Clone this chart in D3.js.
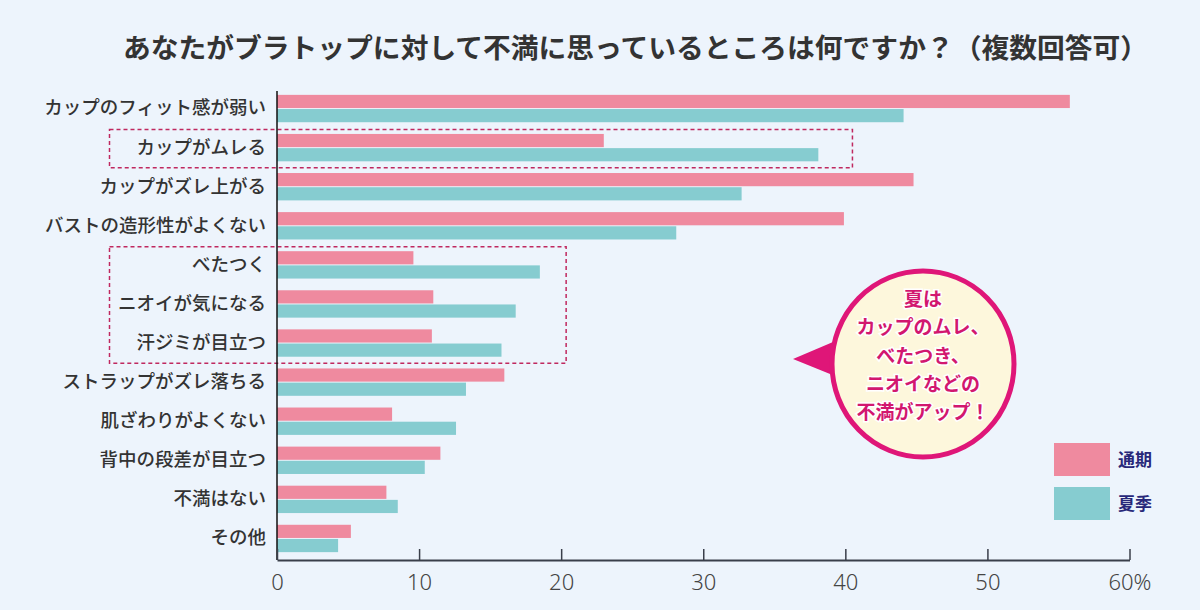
<!DOCTYPE html>
<html>
<head>
<meta charset="utf-8">
<script src="https://cdn.jsdelivr.net/npm/d3@7"></script>
<style>
  html, body { margin: 0; padding: 0; background: #edf4fc; }
  svg { display: block; font-family: "Noto Sans CJK JP", "Noto Sans", sans-serif; }
</style>
</head>
<body>
<div id="container"></div>
<script>
// Data (%)
const categories = [
  'カップのフィット感が弱い', 'カップがムレる', 'カップがズレ上がる', 'バストの造形性がよくない',
  'べたつく', 'ニオイが気になる', '汗ジミが目立つ', 'ストラップがズレ落ちる',
  '肌ざわりがよくない', '背中の段差が目立つ', '不満はない', 'その他'
];
const seriesNames = [ '通期', '夏季' ];
const allYear = [ 55.8, 23.0, 44.8, 39.9, 9.6, 11.0, 10.9, 16.0, 8.1, 11.5, 7.7, 5.2 ];
const summer  = [ 44.1, 38.1, 32.7, 28.1, 18.5, 16.8, 15.8, 13.3, 12.6, 10.4, 8.5, 4.3 ];
const xTicks = [ 0, 10, 20, 30, 40, 50, 60 ];
const title = 'あなたがブラトップに対して不満に思っているところは何ですか？（複数回答可）';
const calloutLines = [ '夏は', 'カップのムレ、', 'べたつき、', 'ニオイなどの', '不満がアップ！' ];
// highlighted row groups (first, last, right edge in %)
const highlights = [
  { from: 'カップがムレる', to: 'カップがムレる', xMax: 40.5 },
  { from: 'べたつく', to: '汗ジミが目立つ', xMax: 20.35 }
];

//_____ LAYOUT _____
const W = 1200, H = 610;
const colors = { '通期': '#ef8a9f', '夏季': '#86ccd0' };
const textDark = '#333';

const svg = d3.select( '#container' ).append( 'svg' )
  .attr( 'width', W ).attr( 'height', H );

svg.append( 'rect' ).attr( 'width', W ).attr( 'height', H ).attr( 'fill', '#edf4fc' );

//_____ SCALES _____
const xScale = d3.scaleLinear().domain( [ 0, 60 ] ).range( [ 277, 1129.5 ] );
const yScale = d3.scaleBand().domain( categories ).range( [ 89, 558 ] )
  .paddingInner( 0.3 ).paddingOuter( 0.15 );
const ySub = d3.scaleBand().domain( seriesNames ).range( [ 0, yScale.bandwidth() ] )
  .paddingInner( 0.07 );

const rows = categories.map( ( c, i ) => ( { cat: c, '通期': allYear[ i ], '夏季': summer[ i ] } ) );

//_____ HIGHLIGHT BOXES _____
svg.append( 'g' ).selectAll( 'rect' )
  .data( highlights )
  .enter().append( 'rect' )
  .attr( 'x', 109.5 )
  .attr( 'y', d => yScale( d.from ) - 4.5 )
  .attr( 'width', d => xScale( d.xMax ) - 109.5 )
  .attr( 'height', d => yScale( d.to ) + yScale.bandwidth() + 6.5 - ( yScale( d.from ) - 4.5 ) )
  .attr( 'fill', 'none' )
  .attr( 'stroke', '#c0285f' )
  .attr( 'stroke-width', 1.5 )
  .attr( 'stroke-dasharray', '4 3' );

//_____ BARS _____
const groups = svg.append( 'g' ).selectAll( 'g' )
  .data( rows )
  .enter().append( 'g' )
  .attr( 'transform', d => `translate(0, ${yScale( d.cat )})` );

groups.selectAll( 'rect' )
  .data( d => seriesNames.map( s => ( { s, v: d[ s ] } ) ) )
  .enter().append( 'rect' )
  .attr( 'x', xScale( 0 ) )
  .attr( 'y', d => ySub( d.s ) )
  .attr( 'width', d => xScale( d.v ) - xScale( 0 ) )
  .attr( 'height', ySub.bandwidth() )
  .attr( 'fill', d => colors[ d.s ] );

//_____ AXES _____
const yAxis = svg.append( 'g' )
  .attr( 'transform', `translate(${xScale( 0 )}, 0)` )
  .call( d3.axisLeft( yScale ).tickSize( 0 ).tickPadding( 11 ) );
yAxis.select( '.domain' ).attr( 'stroke', '#111' ).attr( 'stroke-width', 1.5 )
  .attr( 'd', `M0,91V560` );
yAxis.selectAll( 'text' )
  .attr( 'fill', textDark )
  .style( 'font-size', '18.5px' )
  .style( 'font-weight', 500 )
  .style( 'font-family', '"Noto Sans CJK JP", sans-serif' );

const xAxis = svg.append( 'g' )
  .attr( 'transform', 'translate(0, 560)' )
  .call( d3.axisBottom( xScale ).tickValues( xTicks ).tickSizeInner( -11 ).tickSizeOuter( 0 )
    .tickPadding( 14 ).tickFormat( d => d === 60 ? '60%' : d ) );
xAxis.select( '.domain' ).attr( 'stroke', '#3a3f4a' ).attr( 'stroke-width', 2 );
xAxis.selectAll( '.tick line' ).attr( 'stroke', '#3a3f4a' ).attr( 'stroke-width', 1.5 );
xAxis.selectAll( 'text' )
  .attr( 'fill', '#444' )
  .style( 'font-size', '22px' )
  .style( 'font-weight', 300 )
  .style( 'font-family', '"Noto Sans", sans-serif' );

//_____ TITLE _____
svg.append( 'text' )
  .attr( 'x', 123 ).attr( 'y', 58 )
  .attr( 'textLength', 1025 )
  .attr( 'lengthAdjust', 'spacingAndGlyphs' )
  .attr( 'fill', textDark )
  .style( 'font-size', '27px' )
  .style( 'font-weight', 700 )
  .text( title );

//_____ CALLOUT _____
const callout = svg.append( 'g' ).attr( 'transform', 'translate(923, 364)' );
callout.append( 'path' )
  .attr( 'd', 'M-130,-5 L-90,-22 L-88,12 Z' )
  .attr( 'fill', '#df1678' );
callout.append( 'ellipse' )
  .attr( 'rx', 91 ).attr( 'ry', 93 )
  .attr( 'fill', '#fdf7dc' )
  .attr( 'stroke', '#df1678' )
  .attr( 'stroke-width', 5 );
callout.selectAll( 'text' )
  .data( calloutLines )
  .enter().append( 'text' )
  .attr( 'x', 0 )
  .attr( 'y', ( d, i ) => -64.5 + i * 28.1 )
  .attr( 'dy', '0.36em' )
  .attr( 'text-anchor', 'middle' )
  .attr( 'fill', '#d2176f' )
  .attr( 'stroke', '#fff' )
  .attr( 'stroke-width', 3 )
  .attr( 'paint-order', 'stroke' )
  .style( 'font-size', '19px' )
  .style( 'font-weight', 700 )
  .text( d => d );

//_____ LEGEND _____
const legend = svg.append( 'g' ).attr( 'transform', 'translate(1054, 443)' );
const legendItems = legend.selectAll( 'g' )
  .data( seriesNames )
  .enter().append( 'g' )
  .attr( 'transform', ( d, i ) => `translate(0, ${i * 44})` );
legendItems.append( 'rect' )
  .attr( 'width', 56 ).attr( 'height', 33 )
  .attr( 'fill', d => colors[ d ] );
legendItems.append( 'text' )
  .attr( 'x', 64 ).attr( 'y', 17 )
  .attr( 'dy', '0.36em' )
  .attr( 'fill', '#28287a' )
  .style( 'font-size', '17px' )
  .style( 'font-weight', 700 )
  .text( d => d );
</script>
</body>
</html>
